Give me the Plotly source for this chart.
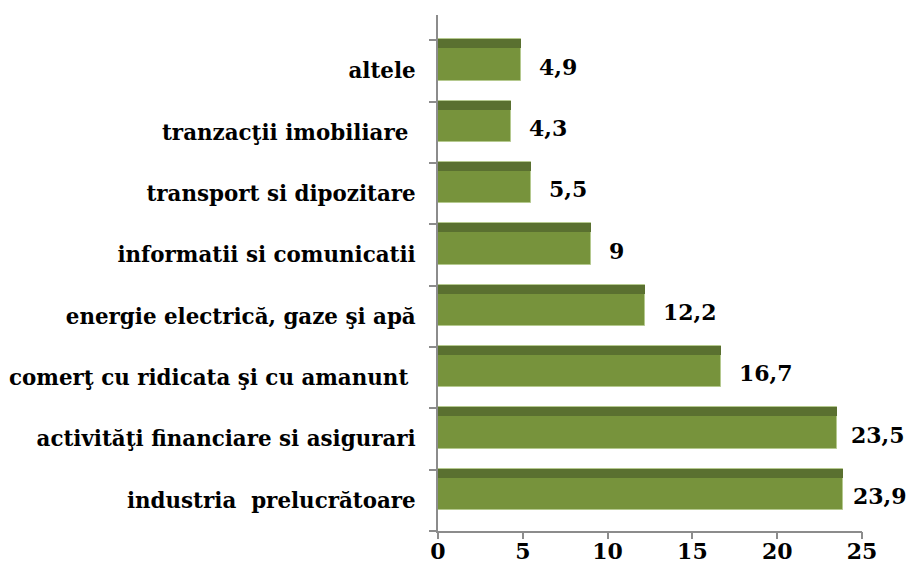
import plotly.graph_objects as go

# Sectors (bottom to top) and their shares
categories = [
    "industria\u00a0 prelucrătoare",
    "activităţi financiare si asigurari",
    "comerţ cu ridicata şi cu amanunt\u00a0",
    "energie electrică, gaze şi apă",
    "informatii si comunicatii",
    "transport si dipozitare",
    "tranzacţii imobiliare\u00a0",
    "altele",
]
values = [23.9, 23.5, 16.7, 12.2, 9, 5.5, 4.3, 4.9]
value_labels = ["23,9", "23,5", "16,7", "12,2", "9", "5,5", "4,3", "4,9"]
x_ticks = [0, 5, 10, 15, 20, 25]

# horizontal gap (px) between each bar end and its value label
label_gap = [9, 13, 17, 17, 17, 17, 17, 17]

positions = list(range(len(categories)))
band_edges = [p - 0.5 for p in positions] + [positions[-1] + 0.5]

FONT = dict(family="DejaVu Serif", size=22, color="#000000")
CAT_FONT = dict(family="DejaVu Serif", size=21.4, color="#000000")
AXIS_GRAY = "#8c8c8c"
FRONT = "#77933c"
TOP = "#5a7030"

fig = go.Figure()

# front face of each bar
fig.add_trace(go.Bar(
    x=values, y=positions, orientation="h",
    width=0.675, offset=-0.16,
    marker=dict(color=FRONT, line=dict(color="#b5c98f", width=1)),
    hoverinfo="skip",
))
# darker top face giving the bars their depth (drawn on the tick-mark axis)
fig.add_trace(go.Bar(
    x=values, y=positions, orientation="h", xaxis="x2",
    width=0.147, offset=0.368,
    marker=dict(color=TOP, line=dict(width=0)),
    hoverinfo="skip",
))

for v, p, t, g in zip(values, positions, value_labels, label_gap):
    fig.add_annotation(
        x=v, y=p + 0.07, text="<b>%s</b>" % t, showarrow=False,
        xanchor="left", yanchor="middle", xshift=g, font=FONT,
        borderpad=0,
    )

fig.update_layout(
    width=909, height=577,
    margin=dict(l=438, r=47, t=15, b=46, autoexpand=False),
    paper_bgcolor="white", plot_bgcolor="white",
    barmode="overlay", showlegend=False, bargap=0,
    font=FONT,
    xaxis=dict(
        range=[0, 25], tickvals=x_ticks,
        ticktext=["<b>%d</b>" % t for t in x_ticks],
        showgrid=False, zeroline=False, automargin=False,
        showline=True, linecolor=AXIS_GRAY, linewidth=2,
        ticks="", ticklabelstandoff=0,
        tickfont=FONT,
    ),
    # tick marks of the value axis, kept apart from its labels
    xaxis2=dict(
        overlaying="x", anchor="y", side="bottom",
        range=[0, 25], tickvals=x_ticks,
        showticklabels=False, showgrid=False, zeroline=False,
        showline=False, automargin=False,
        ticks="outside", ticklen=7, tickwidth=2, tickcolor=AXIS_GRAY,
    ),
    yaxis=dict(
        range=[-0.5, 7.91], tickvals=positions,
        ticktext=["<b>%s</b>" % c for c in categories],
        showgrid=False, zeroline=False, automargin=False,
        showline=True, linecolor=AXIS_GRAY, linewidth=2,
        ticks="", ticklabelstandoff=16,
        tickfont=CAT_FONT,
        minor=dict(tickvals=band_edges, ticks="outside", ticklen=7,
                   tickwidth=2, tickcolor=AXIS_GRAY, showgrid=False),
    ),
)

fig.write_html("out.html")
